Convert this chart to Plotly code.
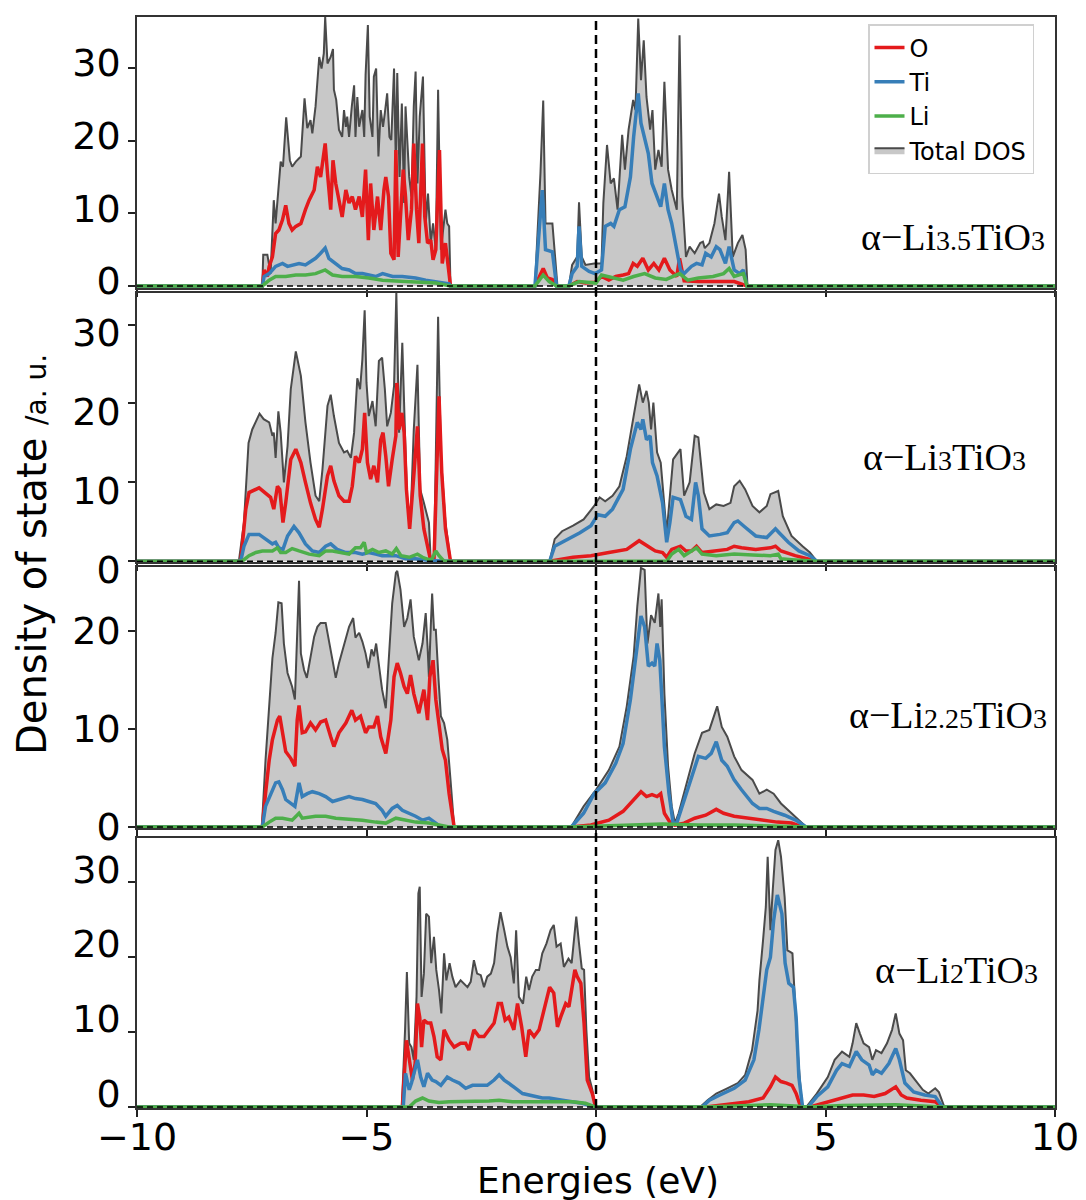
import plotly.graph_objects as go

# ---------------- data (energy in eV, DOS in a.u.) ----------------
PANEL_LABELS = ["α−Li<span style='font-size:28px'>3.5</span>TiO<span style='font-size:28px'>3</span>",
                "α−Li<span style='font-size:28px'>3</span>TiO<span style='font-size:28px'>3</span>",
                "α−Li<span style='font-size:28px'>2.25</span>TiO<span style='font-size:28px'>3</span>",
                "α−Li<span style='font-size:28px'>2</span>TiO<span style='font-size:28px'>3</span>"]
SPECIES = ["O", "Ti", "Li"]
X_TICKS = [-10, -5, 0, 5, 10]
Y_TICKS = [[0, 10, 20, 30], [0, 10, 20, 30], [0, 10, 20], [0, 10, 20, 30]]
Y_TOPS = [37.0, 34.0, 26.5, 35.9]

# ---- panel 1 : alpha-Li3.5TiO3 ----
TOT_1 = [(-10, 0), (-7.27, 0), (-7.25, 4.3), (-7.16, 4.3), (-7.09, 1.7), (-7.02, 11.8), (-6.98, 8.6), (-6.87, 17.1),
         (-6.82, 16.4), (-6.75, 23.2), (-6.67, 17.3), (-6.62, 16.4), (-6.54, 17.1), (-6.43, 17.8), (-6.35, 25.8),
         (-6.29, 21.7), (-6.22, 22.8), (-6.18, 21.0), (-6.11, 24.7), (-6.03, 31.5), (-5.98, 29.9), (-5.93, 32.0),
         (-5.90, 37.0), (-5.85, 30.6), (-5.78, 31.5), (-5.73, 32.6), (-5.71, 27.0), (-5.66, 25.6), (-5.60, 21.5),
         (-5.53, 20.5), (-5.49, 24.2), (-5.45, 21.9), (-5.42, 23.3), (-5.38, 20.5), (-5.32, 24.7), (-5.27, 27.6),
         (-5.24, 20.5), (-5.20, 26.0), (-5.16, 21.9), (-5.09, 24.2), (-5.05, 20.5), (-5.02, 29.0), (-4.97, 35.9),
         (-4.93, 23.3), (-4.87, 20.5), (-4.84, 28.8), (-4.79, 29.9), (-4.74, 17.8), (-4.69, 24.2), (-4.64, 21.9),
         (-4.60, 23.8), (-4.55, 26.5), (-4.50, 20.5), (-4.46, 20.1), (-4.40, 29.9), (-4.36, 16.4), (-4.33, 29.3),
         (-4.28, 15.0), (-4.23, 25.1), (-4.18, 11.4), (-4.15, 24.7), (-4.07, 15.0), (-4.02, 12.3), (-3.97, 24.7),
         (-3.93, 29.5), (-3.89, 14.1), (-3.84, 23.3), (-3.77, 28.8), (-3.71, 8.6), (-3.66, 12.7), (-3.60, 5.9),
         (-3.55, 8.6), (-3.49, 5.0), (-3.44, 27.0), (-3.38, 5.0), (-3.33, 8.2), (-3.28, 10.5), (-3.24, 8.6),
         (-3.20, 8.2), (-3.17, 0),
         (-1.33, 0), (-1.21, 15.5), (-1.15, 25.5), (-1.10, 8.6), (-0.95, 8.6), (-0.84, 0),
         (-0.59, 0), (-0.52, 2.9), (-0.41, 4.0), (-0.37, 11.5), (-0.31, 4.0), (-0.23, 2.9), (-0.04, 3.1),
         (0.12, 3.1), (0.16, 11.4), (0.24, 19.4), (0.32, 14.1), (0.39, 14.8), (0.47, 10.5), (0.57, 20.8),
         (0.63, 16.0), (0.71, 21.5), (0.81, 25.6), (0.86, 24.2), (0.92, 36.8), (0.98, 28.3), (1.04, 33.8),
         (1.10, 26.0), (1.18, 21.5), (1.23, 24.2), (1.29, 16.0), (1.36, 18.7), (1.43, 16.4), (1.49, 28.1),
         (1.57, 16.0), (1.65, 13.2), (1.76, 10.5), (1.82, 34.5), (1.88, 12.3), (1.96, 4.0), (2.04, 5.4),
         (2.15, 4.5), (2.27, 5.9), (2.33, 6.1), (2.37, 5.2), (2.47, 5.9), (2.58, 8.6), (2.68, 12.7), (2.74, 9.5),
         (2.82, 6.3), (2.90, 15.7), (2.98, 4.0), (3.09, 5.9), (3.19, 7.0), (3.26, 5.0), (3.30, 0), (10, 0)]
O_1 = [(-10, 0), (-7.27, 0), (-7.23, 2.2), (-7.16, 1.3), (-7.12, 2.7), (-7.05, 4.0), (-6.98, 7.2), (-6.91, 7.7),
       (-6.83, 9.1), (-6.76, 11.1), (-6.69, 8.6), (-6.62, 7.7), (-6.54, 8.2), (-6.43, 8.6), (-6.33, 10.5),
       (-6.25, 11.8), (-6.14, 13.2), (-6.07, 16.4), (-6.00, 15.0), (-5.90, 19.6), (-5.85, 15.5), (-5.78, 10.5),
       (-5.73, 17.3), (-5.67, 14.1), (-5.60, 11.8), (-5.53, 9.5), (-5.45, 13.2), (-5.38, 11.4), (-5.31, 12.3),
       (-5.24, 10.5), (-5.16, 12.3), (-5.09, 9.5), (-5.02, 16.0), (-4.96, 6.3), (-4.91, 14.1), (-4.84, 7.7),
       (-4.76, 12.3), (-4.69, 7.7), (-4.62, 13.2), (-4.58, 15.0), (-4.52, 12.3), (-4.47, 4.5), (-4.40, 3.6),
       (-4.36, 18.7), (-4.31, 4.0), (-4.26, 10.5), (-4.20, 16.0), (-4.15, 12.3), (-4.09, 6.3), (-4.02, 10.5),
       (-3.97, 19.6), (-3.91, 10.5), (-3.86, 5.9), (-3.78, 19.6), (-3.73, 9.5), (-3.67, 5.9), (-3.60, 6.3),
       (-3.55, 3.6), (-3.49, 5.0), (-3.41, 18.7), (-3.35, 3.1), (-3.28, 5.9), (-3.22, 3.1), (-3.17, 0),
       (-1.33, 0), (-1.15, 2.4), (-1.06, 1.1), (-0.95, 0.9), (-0.86, 0), (-0.59, 0), (-0.41, 0.6), (-0.23, 0.4),
       (-0.02, 0.5), (0.12, 1.3), (0.28, 0.8), (0.43, 1.3), (0.59, 1.5), (0.71, 1.7), (0.81, 3.1), (0.90, 2.7),
       (1.02, 3.8), (1.14, 2.2), (1.26, 3.1), (1.37, 2.2), (1.49, 3.8), (1.61, 2.2), (1.76, 1.3), (1.82, 3.8),
       (1.92, 0.7), (2.23, 0.6), (2.62, 0.6), (3.01, 0.6), (3.29, 0), (10, 0)]
TI_1 = [(-10, 0), (-7.27, 0), (-7.23, 1.3), (-7.12, 1.7), (-6.98, 2.7), (-6.83, 3.1), (-6.72, 2.7), (-6.62, 2.9),
        (-6.47, 3.1), (-6.33, 2.9), (-6.11, 3.8), (-6.00, 4.5), (-5.90, 5.2), (-5.82, 3.8), (-5.67, 3.1),
        (-5.53, 2.4), (-5.38, 2.2), (-5.24, 1.7), (-5.09, 1.7), (-4.95, 1.5), (-4.80, 1.3), (-4.65, 1.7),
        (-4.43, 1.3), (-4.22, 1.3), (-3.93, 1.1), (-3.71, 0.8), (-3.49, 0.6), (-3.20, 0.3), (-3.17, 0),
        (-1.33, 0), (-1.17, 13.2), (-1.10, 5.0), (-0.95, 4.7), (-0.86, 0), (-0.59, 0), (-0.52, 1.7), (-0.41, 2.7),
        (-0.37, 8.2), (-0.31, 2.7), (-0.15, 2.0), (-0.02, 1.7), (0.12, 2.2), (0.20, 8.2), (0.32, 8.6), (0.39, 8.2),
        (0.51, 10.5), (0.63, 10.9), (0.75, 15.0), (0.82, 20.5), (0.92, 26.5), (0.98, 22.4), (1.06, 20.5),
        (1.14, 18.2), (1.22, 14.1), (1.33, 12.3), (1.41, 10.9), (1.49, 14.1), (1.57, 10.5), (1.65, 8.6),
        (1.76, 5.0), (1.84, 2.2), (1.92, 1.7), (2.00, 2.2), (2.08, 2.7), (2.19, 3.1), (2.31, 2.9), (2.39, 4.5),
        (2.51, 4.0), (2.62, 5.4), (2.70, 5.0), (2.82, 3.1), (2.90, 5.4), (3.01, 2.2), (3.13, 1.7), (3.21, 2.2),
        (3.29, 0), (10, 0)]
LI_1 = [(-10, 0), (-7.27, 0), (-7.12, 0.8), (-6.98, 1.3), (-6.76, 1.3), (-6.54, 1.5), (-6.33, 1.5), (-6.11, 1.7),
        (-5.90, 2.2), (-5.74, 1.5), (-5.53, 1.3), (-5.24, 1.3), (-4.95, 1.1), (-4.65, 0.8), (-4.36, 0.7),
        (-4.07, 0.6), (-3.78, 0.6), (-3.49, 0.4), (-3.17, 0),
        (-1.33, 0), (-1.15, 1.5), (-1.02, 0.6), (-0.86, 0), (-0.59, 0), (-0.37, 0.6), (0.00, 0.4), (0.12, 1.5),
        (0.36, 1.1), (0.59, 0.8), (0.82, 1.3), (1.06, 1.7), (1.29, 1.1), (1.53, 0.9), (1.82, 1.7), (2.00, 0.8),
        (2.23, 1.1), (2.55, 1.3), (2.78, 1.7), (2.90, 2.4), (3.01, 1.3), (3.21, 1.7), (3.29, 0), (10, 0)]

# ---- panel 2 : alpha-Li3TiO3 ----
TOT_2 = [(-10, 0), (-7.78, 0), (-7.67, 4.9), (-7.57, 15.0), (-7.49, 16.7), (-7.33, 18.7), (-7.24, 18.0),
         (-7.12, 17.6), (-7.05, 15.9), (-7.02, 16.3), (-6.98, 13.1), (-6.92, 19.0), (-6.87, 16.3), (-6.80, 10.0),
         (-6.72, 14.6), (-6.65, 21.8), (-6.54, 26.6), (-6.43, 23.5), (-6.33, 17.6), (-6.22, 12.5), (-6.11, 8.3),
         (-6.03, 7.6), (-5.96, 11.6), (-5.85, 19.7), (-5.78, 21.1), (-5.71, 18.4), (-5.60, 15.0), (-5.49, 13.8),
         (-5.42, 14.0), (-5.34, 13.1), (-5.27, 16.3), (-5.20, 23.2), (-5.14, 21.8), (-5.09, 25.6), (-5.04, 31.8),
         (-5.00, 22.6), (-4.95, 18.4), (-4.87, 20.3), (-4.80, 17.1), (-4.73, 25.4), (-4.66, 25.8), (-4.60, 21.8),
         (-4.55, 17.1), (-4.47, 18.8), (-4.40, 22.2), (-4.35, 34.1), (-4.29, 16.3), (-4.22, 27.7), (-4.16, 15.9),
         (-4.11, 7.0), (-4.04, 5.3), (-3.97, 16.7), (-3.89, 24.9), (-3.83, 9.1), (-3.75, 7.4), (-3.64, 4.9),
         (-3.60, 0), (-3.53, 0), (-3.49, 13.3), (-3.44, 31.0), (-3.38, 13.3), (-3.28, 4.9), (-3.17, 0),
         (-1.01, 0), (-0.90, 2.8), (-0.74, 3.8), (-0.50, 4.5), (-0.27, 5.3), (-0.04, 7.0), (0.08, 8.1), (0.20, 7.6),
         (0.36, 8.3), (0.51, 9.5), (0.67, 13.3), (0.82, 18.4), (0.94, 22.4), (1.02, 20.1), (1.10, 21.6),
         (1.15, 20.1), (1.20, 16.7), (1.25, 20.1), (1.33, 13.8), (1.41, 12.5), (1.49, 7.0), (1.54, 3.6),
         (1.61, 8.3), (1.68, 12.9), (1.84, 14.2), (1.92, 8.3), (2.04, 10.0), (2.15, 15.9), (2.23, 15.7),
         (2.35, 8.7), (2.47, 6.6), (2.62, 7.2), (2.78, 7.0), (2.93, 7.4), (3.01, 9.5), (3.13, 10.2), (3.25, 9.1),
         (3.41, 7.0), (3.56, 6.2), (3.72, 7.0), (3.80, 8.5), (3.91, 8.7), (3.97, 8.9), (4.07, 5.7), (4.26, 3.2),
         (4.50, 1.9), (4.66, 1.1), (4.81, 0), (10, 0)]
O_2 = [(-10, 0), (-7.74, 0), (-7.63, 6.6), (-7.56, 8.7), (-7.34, 9.3), (-7.20, 8.7), (-7.09, 8.1), (-7.02, 6.6),
       (-6.94, 9.5), (-6.89, 9.1), (-6.82, 4.9), (-6.76, 7.4), (-6.65, 12.9), (-6.54, 14.2), (-6.43, 12.5),
       (-6.33, 10.0), (-6.22, 7.4), (-6.11, 5.3), (-6.03, 4.3), (-5.96, 6.6), (-5.85, 10.8), (-5.78, 12.1),
       (-5.71, 10.2), (-5.60, 8.3), (-5.49, 7.6), (-5.38, 7.6), (-5.31, 9.5), (-5.24, 13.3), (-5.16, 12.5),
       (-5.09, 14.2), (-5.04, 18.8), (-4.98, 12.5), (-4.91, 10.4), (-4.84, 12.1), (-4.76, 10.0), (-4.69, 15.4),
       (-4.64, 16.3), (-4.58, 13.3), (-4.52, 9.5), (-4.44, 12.9), (-4.36, 15.9), (-4.34, 22.6), (-4.29, 16.7),
       (-4.23, 18.8), (-4.18, 16.3), (-4.13, 9.1), (-4.06, 4.1), (-3.97, 10.8), (-3.89, 17.1), (-3.83, 8.3),
       (-3.75, 4.1), (-3.64, 1.1), (-3.60, 0), (-3.53, 0), (-3.48, 9.1), (-3.42, 20.9), (-3.36, 11.2),
       (-3.28, 4.1), (-3.17, 0),
       (-1.01, 0), (-0.50, 0.5), (-0.11, 0.7), (0.28, 1.1), (0.67, 1.5), (0.94, 2.6), (1.06, 2.2), (1.18, 1.7),
       (1.29, 1.3), (1.45, 1.1), (1.54, 0.5), (1.65, 1.5), (1.84, 1.9), (1.96, 1.3), (2.08, 1.3), (2.19, 1.9),
       (2.31, 1.1), (2.55, 1.3), (2.86, 1.5), (3.01, 1.9), (3.17, 1.7), (3.48, 1.5), (3.80, 1.7), (3.91, 1.9),
       (4.03, 1.3), (4.34, 0.7), (4.66, 0.3), (4.81, 0), (10, 0)]
TI_2 = [(-10, 0), (-7.74, 0), (-7.67, 1.9), (-7.56, 3.4), (-7.34, 3.4), (-7.20, 2.8), (-7.05, 2.2), (-6.98, 2.4),
        (-6.91, 1.7), (-6.82, 1.5), (-6.72, 3.2), (-6.58, 4.4), (-6.47, 3.6), (-6.33, 2.2), (-6.18, 1.3),
        (-6.03, 1.1), (-5.89, 1.9), (-5.78, 2.2), (-5.64, 1.5), (-5.45, 1.1), (-5.24, 1.1), (-5.09, 0.9),
        (-4.95, 1.1), (-4.80, 0.9), (-4.66, 0.7), (-4.36, 0.7), (-4.15, 0.3), (-3.93, 0.3), (-3.64, 0.1),
        (-3.17, 0),
        (-1.01, 0), (-0.90, 1.9), (-0.66, 2.6), (-0.35, 3.6), (-0.11, 4.5), (0.04, 5.9), (0.20, 5.7), (0.36, 6.6),
        (0.59, 9.1), (0.75, 14.2), (0.90, 17.6), (0.98, 16.7), (1.02, 18.0), (1.10, 15.4), (1.18, 15.9),
        (1.23, 12.5), (1.33, 10.8), (1.45, 7.4), (1.54, 2.4), (1.61, 4.9), (1.68, 8.1), (1.84, 7.8), (1.96, 5.7),
        (2.08, 5.3), (2.17, 10.0), (2.23, 8.3), (2.31, 4.1), (2.47, 3.2), (2.70, 3.4), (2.86, 3.6), (3.01, 4.9),
        (3.09, 5.1), (3.25, 4.3), (3.48, 3.2), (3.72, 3.0), (3.91, 4.1), (3.99, 3.6), (4.19, 2.4), (4.42, 1.3),
        (4.66, 0.7), (4.81, 0), (10, 0)]
LI_2 = [(-10, 0), (-7.71, 0), (-7.56, 0.7), (-7.41, 1.1), (-7.27, 1.3), (-7.05, 1.3), (-6.94, 1.7), (-6.87, 1.1),
        (-6.76, 1.1), (-6.62, 1.6), (-6.47, 1.3), (-6.25, 0.9), (-6.03, 0.7), (-5.89, 1.3), (-5.74, 1.3),
        (-5.53, 1.1), (-5.38, 0.9), (-5.24, 1.7), (-5.13, 1.7), (-5.05, 2.4), (-5.00, 1.1), (-4.87, 1.5),
        (-4.73, 1.1), (-4.58, 1.3), (-4.44, 0.9), (-4.35, 1.6), (-4.25, 0.7), (-4.07, 0.5), (-3.89, 0.9),
        (-3.78, 0.5), (-3.64, 0.2), (-3.57, 0.3), (-3.49, 1.3), (-3.42, 0.7), (-3.31, 0),
        (1.54, 0), (1.65, 0.9), (1.80, 1.5), (1.92, 0.7), (2.19, 1.7), (2.31, 0.9), (2.62, 0.7), (3.01, 0.9),
        (3.41, 0.8), (3.80, 0.7), (3.97, 0.9), (4.03, 0.3), (4.26, 0.2), (4.81, 0), (10, 0)]

# ---- panel 3 : alpha-Li2.25TiO3 ----
TOT_3 = [(-10, 0), (-7.28, 0), (-7.20, 6.8), (-7.12, 12.6), (-7.05, 17.2), (-6.98, 19.8), (-6.92, 22.9),
         (-6.85, 22.8), (-6.80, 18.7), (-6.72, 15.7), (-6.62, 14.3), (-6.56, 13.0), (-6.51, 21.1), (-6.47, 25.1),
         (-6.43, 17.7), (-6.36, 16.0), (-6.30, 15.2), (-6.22, 17.4), (-6.14, 19.4), (-6.07, 20.4), (-6.00, 20.8),
         (-5.89, 20.8), (-5.82, 19.1), (-5.74, 17.0), (-5.67, 15.2), (-5.60, 16.7), (-5.49, 18.7), (-5.38, 20.4),
         (-5.29, 21.3), (-5.24, 19.3), (-5.16, 19.8), (-5.09, 18.9), (-5.02, 17.7), (-4.96, 16.2), (-4.89, 18.1),
         (-4.84, 17.4), (-4.79, 18.7), (-4.73, 16.4), (-4.66, 14.0), (-4.58, 12.1), (-4.51, 17.0), (-4.44, 22.8),
         (-4.36, 25.9), (-4.33, 26.1), (-4.26, 24.2), (-4.18, 20.4), (-4.11, 21.3), (-4.04, 23.2), (-3.97, 19.4),
         (-3.86, 17.0), (-3.78, 18.7), (-3.71, 21.8), (-3.67, 18.4), (-3.64, 15.3), (-3.60, 20.4), (-3.57, 23.8),
         (-3.53, 20.1), (-3.49, 20.1), (-3.43, 15.0), (-3.38, 11.3), (-3.31, 10.6), (-3.24, 8.9), (-3.17, 4.8),
         (-3.09, 0),
         (-0.54, 0), (-0.27, 2.1), (0.00, 3.8), (0.28, 5.8), (0.51, 8.2), (0.67, 12.3), (0.82, 17.4), (0.90, 22.5),
         (0.98, 26.4), (1.06, 26.2), (1.12, 18.7), (1.20, 21.6), (1.28, 20.8), (1.36, 23.8), (1.40, 20.4),
         (1.43, 23.2), (1.49, 13.6), (1.57, 6.2), (1.65, 2.1), (1.72, 0.4), (1.80, 1.4), (1.96, 4.1), (2.15, 7.5),
         (2.31, 9.6), (2.47, 9.9), (2.64, 12.3), (2.74, 10.2), (2.86, 9.2), (3.01, 7.2), (3.17, 5.8), (3.41, 4.8),
         (3.56, 3.4), (3.72, 3.8), (3.87, 3.4), (4.03, 2.4), (4.26, 1.4), (4.42, 0.7), (4.58, 0), (10, 0)]
O_3 = [(-10, 0), (-7.27, 0), (-7.20, 3.4), (-7.12, 6.8), (-7.05, 8.9), (-6.94, 10.9), (-6.89, 11.3), (-6.83, 9.6),
       (-6.76, 7.7), (-6.65, 7.0), (-6.56, 6.2), (-6.51, 10.9), (-6.47, 12.4), (-6.40, 9.6), (-6.33, 9.7),
       (-6.22, 10.6), (-6.11, 9.9), (-6.00, 10.7), (-5.89, 10.9), (-5.78, 9.2), (-5.71, 8.2), (-5.60, 9.6),
       (-5.45, 10.6), (-5.32, 11.9), (-5.24, 10.9), (-5.13, 11.3), (-5.02, 9.6), (-4.95, 10.2), (-4.84, 10.2),
       (-4.76, 11.3), (-4.69, 9.2), (-4.58, 7.5), (-4.47, 10.9), (-4.40, 15.3), (-4.33, 16.7), (-4.26, 15.7),
       (-4.18, 14.3), (-4.11, 13.6), (-4.04, 15.5), (-3.97, 13.6), (-3.86, 11.6), (-3.75, 14.0), (-3.67, 10.9),
       (-3.62, 15.3), (-3.55, 17.0), (-3.49, 13.0), (-3.42, 10.6), (-3.35, 7.9), (-3.28, 6.8), (-3.20, 3.4),
       (-3.09, 0),
       (-0.54, 0), (-0.11, 0.2), (0.28, 0.7), (0.59, 1.6), (0.82, 2.8), (0.98, 3.6), (1.10, 3.1), (1.22, 3.3),
       (1.33, 3.1), (1.41, 3.4), (1.49, 1.4), (1.61, 0.5), (1.72, 0.2), (1.92, 0.4), (2.15, 0.9), (2.39, 1.2),
       (2.62, 1.8), (2.78, 1.4), (3.01, 1.1), (3.33, 0.9), (3.64, 0.7), (3.95, 0.5), (4.26, 0.4), (4.50, 0),
       (10, 0)]
TI_3 = [(-10, 0), (-7.27, 0), (-7.20, 2.1), (-7.09, 3.4), (-6.98, 4.5), (-6.91, 4.6), (-6.83, 3.8), (-6.76, 2.8),
        (-6.65, 2.4), (-6.56, 2.1), (-6.47, 4.5), (-6.40, 3.1), (-6.29, 3.4), (-6.18, 3.6), (-6.03, 3.4),
        (-5.89, 3.1), (-5.74, 2.6), (-5.60, 2.8), (-5.38, 3.1), (-5.24, 2.9), (-5.09, 2.8), (-4.95, 2.6),
        (-4.80, 2.4), (-4.66, 1.7), (-4.58, 1.1), (-4.44, 1.9), (-4.33, 2.2), (-4.22, 1.7), (-4.07, 1.4),
        (-3.93, 1.1), (-3.78, 0.7), (-3.64, 0.9), (-3.49, 0.4), (-3.38, 0),
        (-0.54, 0), (-0.27, 1.4), (-0.04, 3.4), (0.20, 4.5), (0.43, 6.5), (0.59, 8.5), (0.75, 13.0), (0.86, 17.0),
        (0.98, 21.5), (1.06, 20.4), (1.14, 16.4), (1.22, 16.7), (1.28, 16.4), (1.33, 18.7), (1.39, 17.0),
        (1.43, 13.6), (1.49, 8.2), (1.59, 3.4), (1.68, 0.4), (1.76, 0.4), (1.88, 2.1), (2.08, 4.8), (2.23, 7.2),
        (2.39, 7.0), (2.51, 7.5), (2.62, 8.7), (2.74, 6.8), (2.86, 6.2), (3.01, 4.8), (3.17, 3.8), (3.41, 2.4),
        (3.56, 1.9), (3.72, 1.9), (3.87, 1.6), (4.11, 1.2), (4.35, 0.7), (4.58, 0), (10, 0)]
LI_3 = [(-10, 0), (-7.27, 0), (-7.12, 0.5), (-6.98, 0.9), (-6.83, 0.9), (-6.62, 0.7), (-6.47, 1.4), (-6.40, 0.9),
        (-6.11, 1.1), (-5.89, 1.1), (-5.67, 0.9), (-5.38, 0.8), (-5.09, 0.7), (-4.80, 0.5), (-4.58, 0.4),
        (-4.36, 0.9), (-4.15, 0.7), (-3.93, 0.5), (-3.64, 0.4), (-3.42, 0.2), (-3.20, 0),
        (-0.54, 0), (0.67, 0.2), (1.45, 0.3), (2.23, 0.2), (3.01, 0.2), (4.58, 0), (10, 0)]

# ---- panel 4 : alpha-Li2TiO3 ----
TOT_4 = [(-10, 0), (-4.23, 0), (-4.16, 10.3), (-4.12, 18.0), (-4.07, 8.5), (-4.02, 8.0), (-3.97, 6.3),
         (-3.91, 14.7), (-3.87, 28.5), (-3.84, 29.4), (-3.80, 14.7), (-3.75, 17.8), (-3.70, 25.8), (-3.64, 25.4),
         (-3.59, 19.2), (-3.53, 22.7), (-3.48, 18.3), (-3.42, 15.6), (-3.37, 12.5), (-3.31, 20.5), (-3.26, 16.9),
         (-3.19, 19.2), (-3.13, 17.4), (-3.06, 16.0), (-2.95, 16.9), (-2.88, 16.5), (-2.80, 16.0), (-2.73, 16.7),
         (-2.66, 19.6), (-2.59, 17.8), (-2.51, 17.6), (-2.44, 16.0), (-2.37, 17.4), (-2.29, 17.8), (-2.22, 19.2),
         (-2.15, 23.2), (-2.08, 26.0), (-2.00, 23.6), (-1.93, 21.4), (-1.86, 20.0), (-1.79, 16.5), (-1.74, 23.6),
         (-1.68, 14.7), (-1.59, 13.8), (-1.52, 17.4), (-1.46, 15.6), (-1.39, 17.4), (-1.31, 18.3), (-1.24, 18.3),
         (-1.17, 20.5), (-1.08, 21.8), (-0.99, 23.6), (-0.92, 24.3), (-0.86, 21.4), (-0.77, 21.8), (-0.70, 18.7),
         (-0.60, 19.8), (-0.53, 19.2), (-0.43, 25.4), (-0.37, 21.8), (-0.31, 18.5), (-0.26, 18.3), (-0.21, 10.3),
         (-0.15, 4.0), (-0.08, 2.3), (-0.01, 0),
         (2.27, 0), (2.43, 0.9), (2.62, 1.8), (2.86, 2.5), (3.09, 3.2), (3.25, 4.3), (3.40, 7.6), (3.52, 12.9),
         (3.56, 16.9), (3.64, 22.3), (3.70, 26.7), (3.74, 33.4), (3.80, 23.6), (3.85, 28.9), (3.91, 34.3),
         (3.97, 35.6), (4.03, 33.4), (4.11, 28.0), (4.17, 20.9), (4.23, 20.7), (4.28, 20.5), (4.33, 14.7),
         (4.38, 8.5), (4.46, 2.2), (4.50, 0),
         (4.58, 0), (4.81, 1.8), (5.05, 4.0), (5.20, 6.3), (5.36, 7.4), (5.52, 6.7), (5.59, 8.5), (5.67, 11.2),
         (5.75, 9.8), (5.83, 8.5), (5.95, 8.0), (6.02, 6.3), (6.10, 7.6), (6.22, 7.2), (6.34, 8.5), (6.45, 10.3),
         (6.53, 12.5), (6.61, 9.8), (6.69, 8.9), (6.75, 4.9), (6.84, 4.5), (7.00, 3.2), (7.12, 2.3), (7.24, 1.8),
         (7.39, 2.5), (7.47, 2.0), (7.59, 0), (10, 0)]
O_4 = [(-10, 0), (-4.22, 0), (-4.13, 8.9), (-4.07, 6.3), (-4.00, 3.6), (-3.94, 5.8), (-3.89, 13.8), (-3.84, 12.0),
       (-3.80, 8.0), (-3.75, 11.6), (-3.67, 11.2), (-3.60, 11.2), (-3.53, 9.4), (-3.46, 6.7), (-3.38, 6.3),
       (-3.31, 10.3), (-3.20, 8.9), (-3.09, 8.0), (-2.95, 8.5), (-2.84, 8.5), (-2.77, 7.6), (-2.66, 10.3),
       (-2.55, 9.4), (-2.44, 9.4), (-2.33, 10.3), (-2.22, 11.2), (-2.13, 13.8), (-2.06, 13.8), (-1.98, 11.6),
       (-1.90, 12.0), (-1.79, 10.3), (-1.71, 13.8), (-1.62, 10.7), (-1.53, 6.7), (-1.46, 10.3), (-1.35, 9.4),
       (-1.24, 10.3), (-1.13, 12.9), (-1.01, 16.0), (-0.92, 15.2), (-0.84, 10.7), (-0.77, 12.0), (-0.66, 13.8),
       (-0.59, 13.4), (-0.46, 18.3), (-0.41, 17.4), (-0.33, 16.5), (-0.26, 11.2), (-0.19, 3.6), (-0.08, 1.8),
       (-0.01, 0),
       (2.39, 0), (2.86, 0.3), (3.33, 0.7), (3.64, 1.2), (3.80, 2.7), (3.91, 4.0), (4.03, 3.4), (4.15, 3.2),
       (4.27, 2.9), (4.36, 1.8), (4.46, 0),
       (4.66, 0), (4.97, 0.5), (5.20, 0.9), (5.36, 1.2), (5.59, 1.6), (5.83, 1.6), (6.06, 1.4), (6.30, 1.8),
       (6.53, 2.7), (6.65, 1.6), (6.77, 1.2), (7.08, 0.9), (7.39, 0.7), (7.55, 0), (10, 0)]
TI_4 = [(-10, 0), (-4.20, 0), (-4.15, 4.5), (-4.07, 2.3), (-4.02, 3.2), (-3.94, 4.9), (-3.89, 6.3), (-3.82, 4.0),
        (-3.75, 2.7), (-3.67, 4.5), (-3.57, 3.6), (-3.49, 3.4), (-3.38, 2.9), (-3.24, 4.0), (-3.13, 3.6),
        (-2.98, 3.2), (-2.84, 2.5), (-2.69, 2.9), (-2.55, 2.9), (-2.37, 2.9), (-2.22, 3.6), (-2.11, 4.3),
        (-2.00, 3.6), (-1.90, 3.2), (-1.75, 2.5), (-1.60, 1.8), (-1.46, 1.6), (-1.31, 1.4), (-1.17, 1.2),
        (-1.02, 1.2), (-0.88, 1.0), (-0.73, 0.9), (-0.52, 0.7), (-0.30, 0.5), (-0.08, 0.1), (-0.01, 0),
        (2.31, 0), (2.47, 0.9), (2.70, 1.6), (3.01, 2.5), (3.25, 3.6), (3.44, 6.3), (3.55, 10.3), (3.64, 14.7),
        (3.72, 18.3), (3.80, 20.0), (3.87, 24.9), (3.95, 28.3), (4.05, 25.8), (4.12, 19.2), (4.20, 16.5),
        (4.30, 16.0), (4.36, 12.0), (4.42, 4.0), (4.50, 0),
        (4.62, 0), (4.81, 1.4), (5.05, 2.7), (5.24, 4.9), (5.36, 5.8), (5.52, 5.4), (5.67, 7.4), (5.79, 6.3),
        (5.95, 5.6), (6.02, 4.3), (6.10, 4.9), (6.22, 4.5), (6.38, 5.8), (6.53, 7.8), (6.61, 6.3), (6.73, 3.2),
        (6.92, 2.0), (7.16, 1.6), (7.39, 1.4), (7.55, 0), (10, 0)]
LI_4 = [(-10, 0), (-4.07, 0), (-3.93, 0.8), (-3.78, 1.2), (-3.64, 0.8), (-3.42, 0.6), (-3.20, 0.7), (-2.91, 0.7),
        (-2.62, 0.8), (-2.33, 0.8), (-2.11, 0.9), (-1.82, 0.7), (-1.46, 0.7), (-1.10, 0.7), (-0.81, 0.8),
        (-0.52, 0.7), (-0.23, 0.5), (-0.01, 0),
        (2.39, 0), (3.80, 0.3), (4.42, 0.1), (4.46, 0), (4.66, 0), (5.36, 0.2), (6.53, 0.3), (7.55, 0), (10, 0)]

TOTALS = [TOT_1, TOT_2, TOT_3, TOT_4]
PARTIALS = [[O_1, TI_1, LI_1], [O_2, TI_2, LI_2], [O_3, TI_3, LI_3], [O_4, TI_4, LI_4]]

# ---------------- styling / geometry ----------------
PAGE_OFF = 8                       # default body margin of the html page
W, H = 1086 - PAGE_OFF, 1200 - PAGE_OFF


def px_x(p):
    return (p - PAGE_OFF) / W


def px_y(p):
    return 1 - (p - PAGE_OFF) / H


X_DOM = [px_x(137), px_x(1055)]
PANEL_PX = [(17, 288), (293, 562), (567, 828), (838, 1108)]   # (top, bottom) in page px
Y_BOTTOMS = [-0.28, -0.1, -0.1, -0.13]
LABEL_SHIFT = [-5, 8, 0, -13]       # px, positive moves labels down
LABEL_POS = [(1047, 237), (1028, 457), (1049, 715), (1040, 970)]
SP_COLORS = {"O": "#e41a1c", "Ti": "#377eb8", "Li": "#4daf4a"}
TOT_LINE = "#4a4a4a"
TOT_FILL = "#c8c8c8"
TICK_FONT = dict(family="DejaVu Sans", size=38, color="black")

fig = go.Figure()
shapes = []
annotations = []

for i in range(4):
    ax = "" if i == 0 else str(i + 1)
    xa, ya = "x" + ax, "y" + ax
    ex, ev = zip(*TOTALS[i])
    fig.add_trace(go.Scatter(x=list(ex), y=list(ev), mode="lines", fill="tozeroy",
                             fillcolor=TOT_FILL, line=dict(color=TOT_LINE, width=2),
                             name="Total DOS", legendrank=4, showlegend=(i == 0),
                             xaxis=xa, yaxis=ya))
    for sp, data in zip(SPECIES, PARTIALS[i]):
        px_, pv_ = zip(*data)
        fig.add_trace(go.Scatter(x=list(px_), y=list(pv_), mode="lines",
                                 line=dict(color=SP_COLORS[sp], width=3.5),
                                 name=sp, legendrank=SPECIES.index(sp) + 1,
                                 showlegend=(i == 0), xaxis=xa, yaxis=ya))
    top_px, bot_px = PANEL_PX[i]
    dom = [px_y(bot_px), px_y(top_px)]
    fig.layout["xaxis" + ax] = dict(
        domain=X_DOM, range=[-10, 10], anchor=ya, tickvals=X_TICKS, automargin=False,
        showticklabels=(i == 3), tickfont=dict(family="DejaVu Sans", size=38, color="black"),
        ticks="outside", ticklen=7, ticklabelstandoff=-12,
        tickwidth=1.5, tickcolor="#222", showline=True, mirror=True, linecolor="#333",
        linewidth=1.5, showgrid=False, zeroline=False)
    fig.layout["yaxis" + ax] = dict(
        domain=dom, range=[Y_BOTTOMS[i], Y_TOPS[i]], anchor=xa, tickvals=Y_TICKS[i],
        automargin=False, ticklabelshift=LABEL_SHIFT[i],
        tickfont=TICK_FONT, ticks="outside", ticklen=7, tickwidth=1.5, tickcolor="#222",
        showline=True, mirror=True, linecolor="#333", linewidth=1.5, showgrid=False,
        zeroline=False)
    # dashed zero line
    shapes.append(dict(type="line", xref="paper", yref=ya, x0=X_DOM[0], x1=X_DOM[1], y0=0, y1=0,
                       line=dict(color="black", width=1.5, dash="6px,4px"), layer="above"))
    lx, ly = LABEL_POS[i]
    annotations.append(dict(text=PANEL_LABELS[i], xref="paper", yref="paper", x=px_x(lx), y=px_y(ly),
                            xanchor="right", yanchor="middle", showarrow=False,
                            font=dict(family="Liberation Serif", size=38, color="black")))

# Fermi level dashed line across all panels
shapes.append(dict(type="line", xref="x4", yref="paper", x0=0, x1=0,
                   y0=px_y(PANEL_PX[3][1]), y1=px_y(PANEL_PX[0][0]),
                   line=dict(color="black", width=2.5, dash="9px,5px"), layer="above"))

annotations.append(dict(text="Density of state <span style='font-size:28px'>/a. u.</span>",
                        xref="paper", yref="paper", x=px_x(32), y=px_y(555), textangle=-90,
                        xanchor="center", yanchor="middle", showarrow=False,
                        font=dict(family="DejaVu Sans", size=40, color="black")))
annotations.append(dict(text="Energies (eV)", xref="paper", yref="paper", x=px_x(598), y=px_y(1180),
                        xanchor="center", yanchor="middle", showarrow=False,
                        font=dict(family="DejaVu Sans", size=36, color="black")))

fig.update_layout(
    width=W, height=H, margin=dict(l=0, r=0, t=0, b=0, autoexpand=False),
    paper_bgcolor="white", plot_bgcolor="white",
    shapes=shapes, annotations=annotations,
    legend=dict(x=px_x(868), y=px_y(24), xanchor="left", yanchor="top",
                font=dict(family="DejaVu Sans", size=24, color="black"),
                bgcolor="white", bordercolor="#d0d0d0", borderwidth=1.5,
                traceorder="normal", itemwidth=30),
    showlegend=True,
)

fig.write_html("out.html")
